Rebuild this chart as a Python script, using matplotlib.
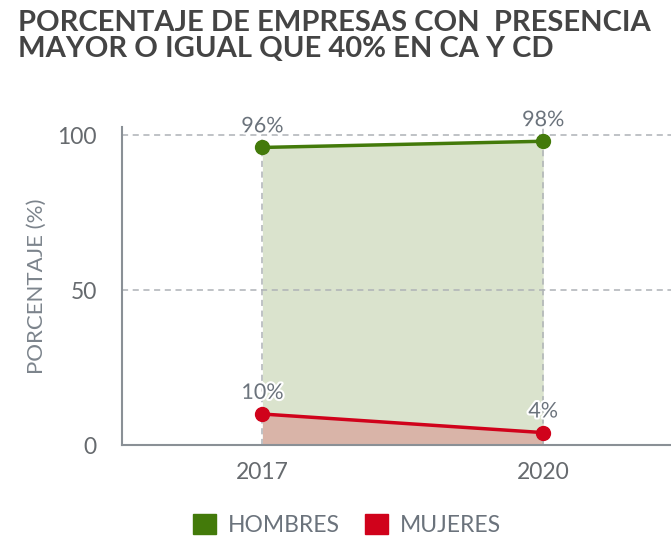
import matplotlib
matplotlib.use("Agg")
import matplotlib.pyplot as plt
from matplotlib.patches import Patch
import matplotlib.patheffects as pe

plt.rcParams["font.family"] = ["Lato", "DejaVu Sans"]

years = ["2017", "2020"]
hombres = [96, 98]
mujeres = [10, 4]
title_lines = ["PORCENTAJE DE EMPRESAS CON  PRESENCIA",
               "MAYOR O IGUAL QUE 40% EN CA Y CD"]

GREEN = "#437a0a"
GREEN_FILL = "#dae3cd"
RED = "#d0021b"
RED_FILL = "#d9b4a8"
GRAY_TXT = "#6b737c"
AXIS_GRAY = "#8a9096"

W, H = 671, 538
fig = plt.figure(figsize=(W / 100, H / 100), dpi=100)
ax = fig.add_axes([122 / W, 93 / H, 1 - 122 / W, 318 / H])

x = list(range(len(years)))
ax.fill_between(x, hombres, 0, color=GREEN_FILL, lw=0, zorder=1)
ax.fill_between(x, mujeres, 0, color=RED_FILL, lw=0, zorder=2)

ax.plot(x, hombres, color=GREEN, lw=2.5, marker="o", ms=10, zorder=4)
ax.plot(x, mujeres, color=RED, lw=2.5, marker="o", ms=10, zorder=4)

# value labels with a white halo
outline = [pe.withStroke(linewidth=3, foreground="white")]
for serie in (hombres, mujeres):
    for xi, v in zip(x, serie):
        ax.annotate(f"{v}%", (xi, v), xytext=(0, 8), textcoords="offset points",
                    ha="center", va="bottom", fontsize=15.5, color=GRAY_TXT,
                    path_effects=outline, zorder=5)

ax.set_xlim(-0.5, 1.455)
ax.set_ylim(0, 102.6)
ax.set_xticks(x)
ax.set_xticklabels(years)
ax.set_yticks([0, 50, 100])

ax.grid(True, color="#aeb2b6", ls=(0, (4, 3)), lw=1.1, zorder=3)
ax.set_axisbelow(False)
ax.get_ygridlines()[0].set_visible(False)

for s in ["top", "right"]:
    ax.spines[s].set_visible(False)
for s in ["left", "bottom"]:
    ax.spines[s].set_color(AXIS_GRAY)
    ax.spines[s].set_linewidth(1.5)
    ax.spines[s].set_zorder(6)

ax.tick_params(length=0, labelsize=16.5, colors="#666a6e")
ax.tick_params(axis="y", pad=18)
ax.tick_params(axis="x", pad=12)
ax.set_ylabel("PORCENTAJE (%)", fontsize=16, color="#7c848c", labelpad=8)

for line, base in zip(title_lines, (31, 57)):
    fig.text(18 / W, 1 - base / H, line, ha="left", va="baseline",
             fontsize=21, fontweight="bold", color="#444444")

handles = [Patch(facecolor=GREEN, edgecolor=GREEN, label="HOMBRES"),
           Patch(facecolor=RED, edgecolor=RED, label="MUJERES")]
fig.legend(handles=handles, loc="center", bbox_to_anchor=(347 / W, 1 - 525 / H),
           ncol=2, frameon=False, fontsize=16.5, labelcolor="#6b737c",
           handlelength=1.0, handleheight=1.0, handletextpad=0.5, columnspacing=1.1)

fig.savefig("out.png", dpi=100)
